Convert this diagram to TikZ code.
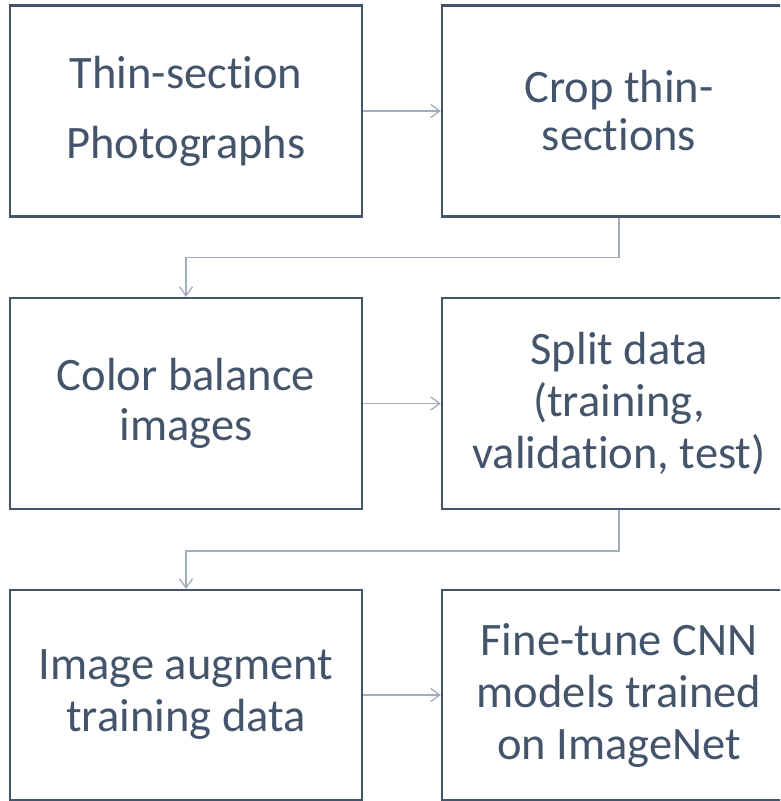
\documentclass[tikz,border=0pt]{standalone}
\usepackage{fontspec}
\setmainfont{Carlito}[Ligatures={NoCommon,NoContextual}]
\usetikzlibrary{arrows.meta}
\definecolor{boxc}{HTML}{44546A}
\definecolor{txtc}{HTML}{44546A}
\definecolor{linec}{HTML}{A3ACBB}
\tikzset{
  stepbox/.style={draw=boxc, line width=2.2pt, rectangle, minimum width=352pt, minimum height=211pt, inner sep=0pt, align=center, text=txtc, font=\fontsize{46.5}{52}\selectfont},
  conn/.style={draw=linec, line width=1.3pt, -{Straight Barb[length=9pt,width=13pt,line width=1.3pt]}}
}
\begin{document}
\begin{tikzpicture}[x=1pt,y=-1pt]
\useasboundingbox (0,0) rectangle (780,801);
\clip (0,0) rectangle (780,801);
\node[stepbox, font=\fontsize{46.5}{70}\selectfont] (b1) at (186,111) {Thin-section\\Photographs};
\node[stepbox, minimum width=354pt, font=\fontsize{46.5}{48}\selectfont] (b2) at (619,111) {Crop thin-\\sections};
\node[stepbox, font=\fontsize{46.5}{50}\selectfont] (b3) at (186,403.5) {Color balance\\images};
\node[stepbox, minimum width=354pt] (b4) at (619,403.5) {Split data\\(training,\\validation, test)};
\node[stepbox, minimum height=210pt] (b5) at (186,695) {Image augment\\training data};
\node[stepbox, minimum width=354pt, minimum height=210pt] (b6) at (619,695) {Fine-tune CNN\\models trained\\on ImageNet};
\draw[conn] (b1.east) -- (b2.west);
\draw[conn] (b2.south) -- ++(0,40) -| (b3.north);
\draw[conn] (b3.east) -- (b4.west);
\draw[conn] (b4.south) -- ++(0,41) -| (b5.north);
\draw[conn] (b5.east) -- (b6.west);
\end{tikzpicture}
\end{document}
